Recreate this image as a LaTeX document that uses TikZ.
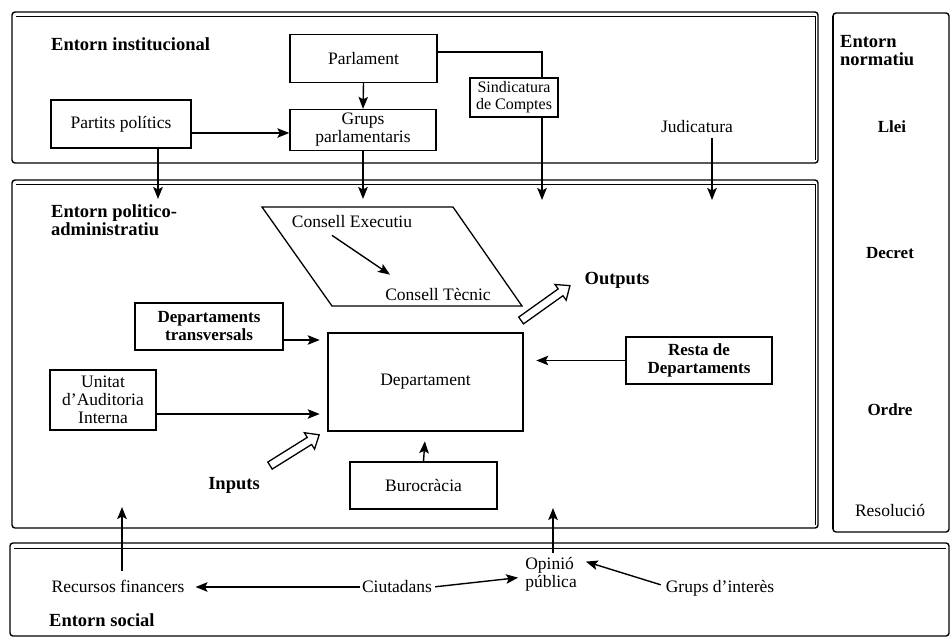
\documentclass[tikz,border=0pt]{standalone}
\usepackage{fontspec}
\setmainfont{Liberation Serif}
\usetikzlibrary{arrows.meta,shapes.arrows}
\tikzset{
  every node/.style={font=\fontsize{17.5}{18}\selectfont, inner sep=1pt},
  box/.style={draw, line width=1.3pt, align=center, inner sep=0pt},
  frame/.style={draw, line width=1.4pt, rounded corners=3pt},
  bevel/.style={line width=0.9pt},
  lbl/.style={font=\fontsize{18.5}{18}\selectfont\bfseries, align=left},
  arr/.style={line width=1.4pt, -{Stealth[length=12pt,width=9.5pt,inset=2.5pt]}},
  plain/.style={line width=1.4pt},
  hollow/.style={draw, line width=1.3pt, single arrow, inner sep=3.5pt,
    single arrow head extend=5.5pt, single arrow tip angle=80},
}
\begin{document}
\begin{tikzpicture}[x=1pt,y=-1pt]
\useasboundingbox (0,0) rectangle (951,638);

% ---- environment frames ----
\draw[frame] (12,12) rectangle (818,163);
\draw[bevel] (16,16) -- (815,16) -- (815,160);
\draw[frame] (12,180) rectangle (818,528);
\draw[bevel] (16,184) -- (815,184) -- (815,525);
\draw[frame] (833,13) rectangle (949,532);
\draw[line width=2.2pt] (833,16) -- (833,529);
\draw[frame] (10,543) rectangle (949,636);
\draw[bevel] (14,548) -- (946,548);

% ---- frame titles ----
\node[lbl, anchor=west] (tinst) at (50,44) {Entorn institucional};
\node[lbl, anchor=north west] (tpol) at (50,203) {Entorn politico-\\administratiu};
\node[lbl, anchor=north west] (tnorm) at (839,34) {Entorn\\normatiu};
\node[lbl, anchor=west] (tsoc) at (48,620) {Entorn social};

% ---- normative ladder ----
\node[font=\fontsize{17}{18}\selectfont\bfseries] (llei) at (892,127) {Llei};
\node[font=\fontsize{17}{18}\selectfont\bfseries] (decret) at (890,253) {Decret};
\node[font=\fontsize{17}{18}\selectfont\bfseries] (ordre) at (890,410) {Ordre};
\node (resol) at (890,510) {Resolució};

% ---- institutional level ----
\node[box, minimum width=147pt, minimum height=48pt] (parl) at (363.5,58.5) {Parlament};
\node[box, minimum width=146pt, minimum height=41pt] (grups) at (363,130) {Grups\\parlamentaris};
\node[box, minimum width=140pt, minimum height=48pt] (partits) at (121,124) {Partits polítics};
\node[box, minimum width=88pt, minimum height=39pt, font=\fontsize{16}{17}\selectfont] (sind) at (514,97.5) {Sindicatura\\de Comptes};
\node (jud) at (697,127) {Judicatura};

\coordinate (sx) at (542,52);
\coordinate (pe) at (158,199);
\coordinate (ge) at (363,199);
\coordinate (se) at (542,200);
\coordinate (je) at (712,200);

\draw[arr] (parl.south) -- (grups.north);
\draw[arr] (partits.east |- 0,133) -- (grups.west |- 0,133);
\draw[plain] (parl.east |- sx) -| (sind.north -| sx);
\draw[arr] (partits.south -| pe) -- (pe);
\draw[arr] (grups.south) -- (ge);
\draw[arr] (sind.south -| se) -- (se);
\draw[arr] (jud.south -| je) ++(0,4) -- (je);

% ---- political-administrative level ----
\draw[line width=1.3pt] (262,207) -- (453,207) -- (522,306) -- (332,306) -- cycle;
\node (cexec) at (352,222) {Consell Executiu};
\node (ctec) at (438,294) {Consell Tècnic};
\draw[arr] ([xshift=-20pt,yshift=-6pt]cexec.south) -- ([xshift=-48pt,yshift=12pt]ctec.north);

\node[box, line width=2.6pt, minimum width=195pt, minimum height=98pt] (dept) at (425.5,382) {Departament};
\node[box, minimum width=148pt, minimum height=47pt, font=\fontsize{17}{18}\selectfont\bfseries] (deptr) at (209,326.5) {Departaments\\transversals};
\node[box, minimum width=106pt, minimum height=60pt] (unitat) at (103,400) {Unitat\\d'Auditoria\\Interna};
\node[box, minimum width=147pt, minimum height=47pt] (buro) at (423.5,485.5) {Burocràcia};
\node[box, minimum width=146pt, minimum height=47pt, font=\fontsize{17}{18}\selectfont\bfseries] (resta) at (699,360.5) {Resta de\\Departaments};

\draw[arr, shorten >=7pt] ([yshift=-13.5pt]deptr.east) -- (dept.west |- 0,340);
\draw[arr, shorten >=7pt] ([yshift=-14pt]unitat.east) -- (dept.west |- 0,414);
\draw[arr, shorten >=12pt] (resta.west) -- (dept.east |- resta.west);
\draw[arr, shorten >=9pt] (buro.north) -- (dept.south);

\node[lbl] (outl) at (617,280) {Outputs};
\node[lbl] (inl) at (234,485) {Inputs};
\node[hollow, minimum height=60pt, rotate=35.5] (outarr) at (543.5,304.5) {};
\node[hollow, minimum height=58pt, rotate=32] (inarr) at (292.5,451.5) {};

% ---- social level ----
\node (rec) at (118,586) {Recursos financers};
\node (ciut) at (397,587) {Ciutadans};
\node[align=left] (opin) at (551,574) {Opinió\\pública};
\node (gi) at (720,588) {Grups d'interès};

\coordinate (recup) at (122,507);
\coordinate (opup) at (553,508);

\draw[arr, shorten <=8pt] (rec.north -| recup) -- (recup);
\draw[arr, shorten >=10pt, shorten <=1pt] (ciut.west) -- (rec.east |- ciut.west);
\draw[arr, shorten >=6pt, shorten <=2pt] (ciut.east) -- ([yshift=-3pt]opin.west);
\draw[arr, shorten >=2pt, shorten <=4pt] ([yshift=2pt]gi.west) -- ([xshift=6pt,yshift=13pt]opin.east);
\draw[arr] (opin.north -| opup) ++(0,-3) -- (opup);
\end{tikzpicture}
\end{document}
